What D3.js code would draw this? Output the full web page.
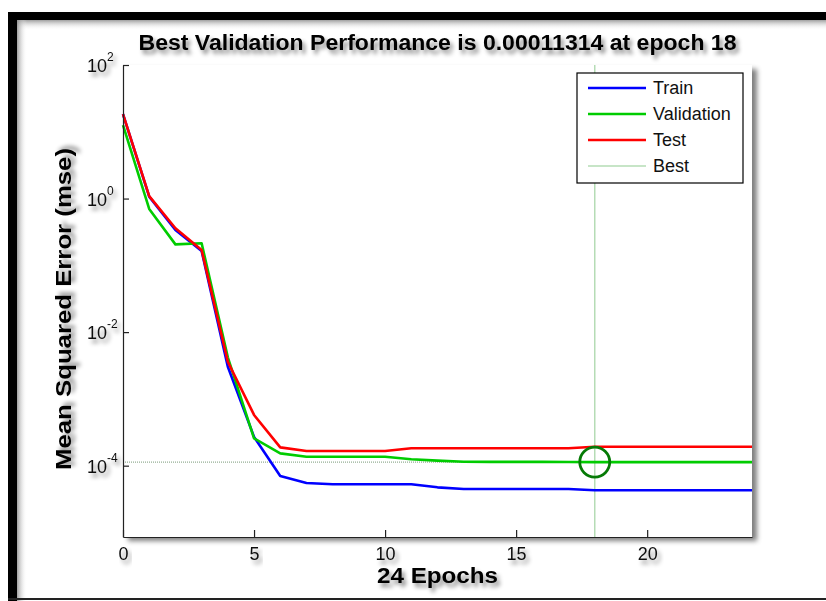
<!DOCTYPE html>
<html><head><meta charset="utf-8">
<script src="https://cdn.jsdelivr.net/npm/d3@7"></script>
<style>body{margin:0;background:#fff;} svg{display:block;}</style>
</head><body>
<script>
// ---- data ----
const epochs = [0,1,2,3,4,5,6,7,8,9,10,11,12,13,14,15,16,17,18,19,20,21,22,23,24];
const trainPerf = [18.4, 1.07, 0.338, 0.164, 3.03e-3, 2.7e-4, 7.0e-5, 5.5e-5, 5.28e-5, 5.28e-5, 5.28e-5, 5.28e-5, 4.74e-5, 4.48e-5, 4.48e-5, 4.48e-5, 4.48e-5, 4.48e-5, 4.28e-5, 4.28e-5, 4.28e-5, 4.28e-5, 4.28e-5, 4.28e-5, 4.28e-5];
const valPerf = [12.6, 0.70, 0.206, 0.214, 4.2e-3, 2.57e-4, 1.53e-4, 1.36e-4, 1.36e-4, 1.36e-4, 1.36e-4, 1.25e-4, 1.19e-4, 1.145e-4, 1.14e-4, 1.14e-4, 1.14e-4, 1.135e-4, 1.1314e-4, 1.1314e-4, 1.1314e-4, 1.1314e-4, 1.1314e-4, 1.1314e-4, 1.1314e-4];
const testPerf = [18.4, 1.09, 0.359, 0.170, 3.6e-3, 5.75e-4, 1.88e-4, 1.66e-4, 1.66e-4, 1.66e-4, 1.66e-4, 1.82e-4, 1.82e-4, 1.82e-4, 1.82e-4, 1.82e-4, 1.82e-4, 1.82e-4, 1.92e-4, 1.92e-4, 1.92e-4, 1.92e-4, 1.92e-4, 1.92e-4, 1.92e-4];
const bestEpoch = 18;
const bestPerf = 0.00011314;
const xDomain = [0, 24];
const yDomain = [8.55e-6, 100];
const xTickValues = [0, 5, 10, 15, 20];
const yTickValues = [1e-4, 1e-2, 1e0, 1e2];
const yTickExponents = ["-4", "-2", "0", "2"];
const legendLabels = ["Train", "Validation", "Test", "Best"];
const titleText = "Best Validation Performance is 0.00011314 at epoch 18";
const xLabelText = "24 Epochs";
const yLabelText = "Mean Squared Error  (mse)";

// ---- layout / style ----
const W = 826, H = 601;
const plot = {left: 123, right: 752, top: 65, bottom: 537};
const colors = {train: "#0000ff", val: "#00cc00", test: "#ff0000", best: "#b5dcb5", circle: "#067a06"};
const FONT = "'Liberation Sans', Arial, Helvetica, sans-serif";

const svg = d3.select("body").append("svg").attr("width", W).attr("height", H)
  .style("font-family", FONT);
const defs = svg.append("defs");

const tf = defs.append("filter").attr("id", "tshadow")
  .attr("x", "-20%").attr("y", "-40%").attr("width", "150%").attr("height", "200%");
tf.append("feGaussianBlur").attr("in", "SourceAlpha").attr("stdDeviation", 2);
tf.append("feOffset").attr("dx", 3).attr("dy", 4).attr("result", "b");
tf.append("feFlood").attr("flood-color", "#000").attr("flood-opacity", 0.45);
tf.append("feComposite").attr("in2", "b").attr("operator", "in");
const tm = tf.append("feMerge");
tm.append("feMergeNode"); tm.append("feMergeNode").attr("in", "SourceGraphic");

const bf = defs.append("filter").attr("id", "bshadow")
  .attr("x", "-5%").attr("y", "-5%").attr("width", "115%").attr("height", "115%");
bf.append("feGaussianBlur").attr("in", "SourceAlpha").attr("stdDeviation", 2.5);
bf.append("feOffset").attr("dx", 5).attr("dy", 4).attr("result", "b");
bf.append("feFlood").attr("flood-color", "#000").attr("flood-opacity", 0.5);
bf.append("feComposite").attr("in2", "b").attr("operator", "in");
const bm = bf.append("feMerge");
bm.append("feMergeNode"); bm.append("feMergeNode").attr("in", "SourceGraphic");

const gTop = defs.append("linearGradient").attr("id", "gTop").attr("x1", 0).attr("y1", 0).attr("x2", 0).attr("y2", 1);
gTop.append("stop").attr("offset", 0).attr("stop-color", "#888").attr("stop-opacity", 0.8);
gTop.append("stop").attr("offset", 1).attr("stop-color", "#fff").attr("stop-opacity", 0);
const gLeft = defs.append("linearGradient").attr("id", "gLeft").attr("x1", 0).attr("y1", 0).attr("x2", 1).attr("y2", 0);
gLeft.append("stop").attr("offset", 0).attr("stop-color", "#888").attr("stop-opacity", 0.8);
gLeft.append("stop").attr("offset", 1).attr("stop-color", "#fff").attr("stop-opacity", 0);

// frame
svg.append("rect").attr("x", 0).attr("y", 0).attr("width", W).attr("height", H).attr("fill", "#fff");
svg.append("rect").attr("x", 17).attr("y", 20).attr("width", W - 17).attr("height", 10).attr("fill", "url(#gTop)");
svg.append("rect").attr("x", 17).attr("y", 20).attr("width", 10).attr("height", H - 20).attr("fill", "url(#gLeft)");
svg.append("rect").attr("x", 8).attr("y", 12).attr("width", W - 8).attr("height", 8).attr("fill", "#000");
svg.append("rect").attr("x", 8).attr("y", 12).attr("width", 9).attr("height", H - 12).attr("fill", "#000");
svg.append("rect").attr("x", 8).attr("y", 598).attr("width", W - 8).attr("height", 2).attr("fill", "#222");

// scales
const x = d3.scaleLinear().domain(xDomain).range([plot.left, plot.right]);
const y = d3.scaleLog().domain(yDomain).range([plot.bottom, plot.top]);

// axes background
svg.append("rect").attr("x", plot.left).attr("y", plot.top)
  .attr("width", plot.right - plot.left).attr("height", plot.bottom - plot.top)
  .attr("fill", "#fff").attr("filter", "url(#bshadow)");

// best lines
svg.append("line").attr("x1", x(bestEpoch)).attr("x2", x(bestEpoch))
  .attr("y1", plot.top).attr("y2", plot.bottom)
  .attr("stroke", colors.best).attr("stroke-width", 1.5);
svg.append("line").attr("x1", plot.left).attr("x2", plot.right)
  .attr("y1", y(bestPerf)).attr("y2", y(bestPerf))
  .attr("stroke", "#7a9a7a").attr("stroke-width", 1).attr("stroke-dasharray", "1,1");

// series
const line = d3.line().x((d, i) => x(epochs[i])).y(d => y(d));
[[trainPerf, colors.train], [valPerf, colors.val], [testPerf, colors.test]].forEach(([s, c]) => {
  svg.append("path").datum(s).attr("d", line).attr("fill", "none")
    .attr("stroke", c).attr("stroke-width", 2.6).attr("stroke-linejoin", "round");
});

// best circle
svg.append("circle").attr("cx", x(bestEpoch)).attr("cy", y(bestPerf)).attr("r", 15)
  .attr("fill", "none").attr("stroke", colors.circle).attr("stroke-width", 2.8);

// axes
const yAxis = d3.axisLeft(y).tickValues(yTickValues).tickSizeInner(-6).tickSizeOuter(0).tickFormat(() => "");
const gy = svg.append("g").attr("transform", `translate(${plot.left},0)`).call(yAxis);
gy.selectAll("path,line").attr("stroke", "#222").attr("stroke-width", 1.2);

const xAxis = d3.axisBottom(x).tickValues(xTickValues).tickSizeInner(-7).tickSizeOuter(0).tickPadding(10);
const gx = svg.append("g").attr("transform", `translate(0,${plot.bottom})`).call(xAxis);
gx.selectAll("path,line").attr("stroke", "#222").attr("stroke-width", 1.2);
gx.selectAll("text").attr("font-size", 18).attr("fill", "#111").attr("font-family", FONT)
  .attr("filter", "url(#tshadow)");

// y tick labels
yTickValues.forEach((v, i) => {
  const g = svg.append("g").attr("filter", "url(#tshadow)");
  g.append("text").attr("x", 107).attr("y", y(v) + 7).attr("text-anchor", "end")
    .attr("font-size", 18).attr("fill", "#111").text("10");
  g.append("text").attr("x", 107).attr("y", y(v) - 4)
    .attr("font-size", 12).attr("fill", "#111").text(yTickExponents[i]);
});

// title & labels
svg.append("text").attr("x", (plot.left + plot.right) / 2).attr("y", 50)
  .attr("text-anchor", "middle").attr("font-size", 22).attr("font-weight", "bold")
  .attr("textLength", 598).attr("lengthAdjust", "spacingAndGlyphs")
  .attr("fill", "#000").attr("filter", "url(#tshadow)").text(titleText);
svg.append("text").attr("x", (plot.left + plot.right) / 2).attr("y", 583)
  .attr("text-anchor", "middle").attr("font-size", 22).attr("font-weight", "bold")
  .attr("textLength", 121).attr("lengthAdjust", "spacingAndGlyphs")
  .attr("fill", "#000").attr("filter", "url(#tshadow)").text(xLabelText);
svg.append("text").attr("transform", `translate(71,309) rotate(-90)`)
  .attr("text-anchor", "middle").attr("font-size", 22).attr("font-weight", "bold")
  .attr("textLength", 322).attr("lengthAdjust", "spacingAndGlyphs")
  .attr("fill", "#000").attr("filter", "url(#tshadow)").text(yLabelText);

// legend
const lg = {x: 577, y: 73, w: 166, h: 110};
svg.append("rect").attr("x", lg.x).attr("y", lg.y).attr("width", lg.w).attr("height", lg.h)
  .attr("fill", "#fff").attr("stroke", "#000").attr("stroke-width", 1.2);
const legendColors = [colors.train, colors.val, colors.test, colors.best];
const legendWidths = [2.6, 2.6, 2.6, 1.5];
const rowY = d3.scalePoint().domain(legendLabels).range([88, 166]);
legendLabels.forEach((lab, i) => {
  svg.append("line").attr("x1", 588).attr("x2", 646).attr("y1", rowY(lab)).attr("y2", rowY(lab))
    .attr("stroke", legendColors[i]).attr("stroke-width", legendWidths[i]);
  svg.append("text").attr("x", 653).attr("y", rowY(lab) + 6).attr("font-size", 18)
    .attr("fill", "#111").text(lab);
});
</script>
</body></html>
